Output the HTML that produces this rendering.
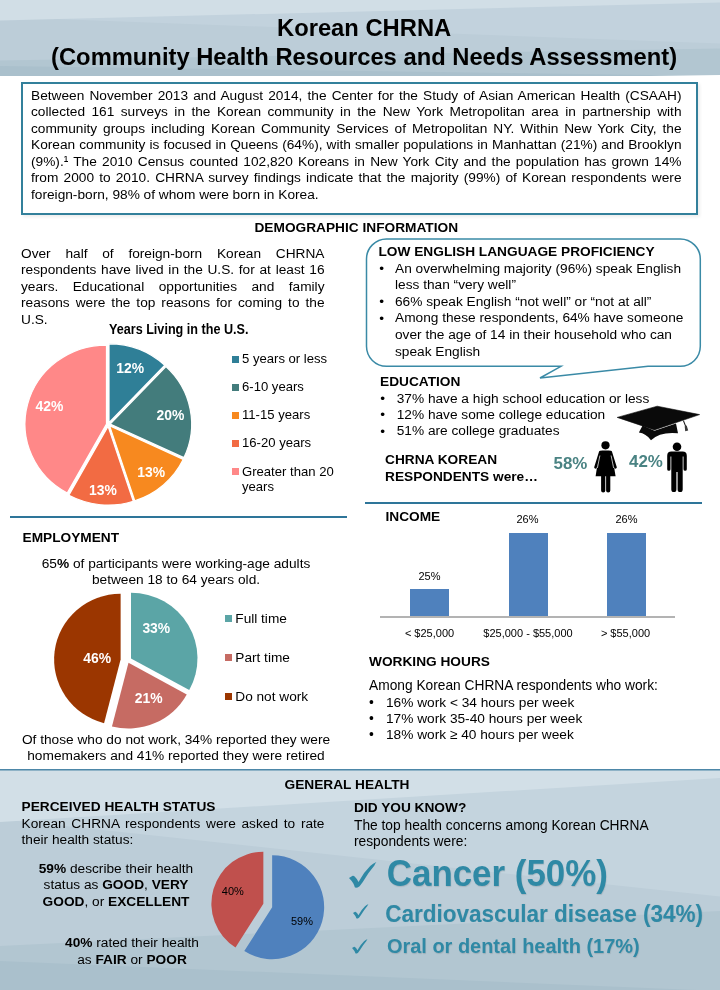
<!DOCTYPE html>
<html lang="en">
<head>
<meta charset="utf-8">
<title>Korean CHRNA</title>
<style>
html,body{margin:0;padding:0;}
body{width:720px;height:990px;position:relative;overflow:hidden;background:#fff;font-family:"Liberation Sans",Arial,sans-serif;color:#000;}
.abs{position:absolute;}
.t{position:absolute;font-size:13.7px;line-height:16.5px;white-space:nowrap;}
.b{font-weight:bold;}
.j{text-align:justify;text-align-last:justify;}
.c{text-align:center;}
.cal{font-size:11px;line-height:13px;position:absolute;white-space:nowrap;text-align:center;}
.lg{position:absolute;width:7px;height:7px;}
.wl{position:absolute;color:#fff;font-weight:bold;font-size:13.9px;line-height:16px;white-space:nowrap;width:40px;text-align:center;}
.bu{position:relative;top:0.3px;}
svg{position:absolute;overflow:visible;}
</style>
</head>
<body>

<!-- HEADER BACKGROUND -->
<svg style="left:0;top:0" width="720" height="75" viewBox="0 0 720 75">
  <defs>
    <linearGradient id="hg" x1="0" y1="0" x2="0" y2="1"><stop offset="0" stop-color="#c0d0db"/><stop offset="1" stop-color="#bbccd7"/></linearGradient>
    <linearGradient id="hd" x1="0" y1="0" x2="0" y2="1"><stop offset="0" stop-color="#b4c8d3"/><stop offset="1" stop-color="#a9c0cc"/></linearGradient>
  </defs>
  <rect width="720" height="75" fill="#c2d2dd"/>
  <polygon points="0,17 720,43.5 720,75 0,75" fill="#bccdd8"/>
  <polygon points="0,0 720,0 720,2.5 0,20.5" fill="#d1dee6"/>
  <polygon points="0,60.5 720,48.5 720,75 0,75" fill="#b2c6d1"/>
  <polygon points="0,66 720,76 0,76" fill="#aac0cc"/>
</svg>
<div class="abs b c" style="left:4.1px;top:12.55px;width:720px;font-size:23.75px;line-height:29px;">Korean CHRNA<br>(Community Health Resources and Needs Assessment)</div>

<!-- INTRO BOX -->
<div class="abs" style="left:21px;top:81.7px;width:672.8px;height:129.3px;border:2px solid #33809b;background:#fff;box-shadow:2px 2px 3px rgba(0,0,0,.07);"></div>
<div class="t j" style="left:31px;top:87.8px;width:650.5px;">
Between November 2013 and August 2014, the Center for the Study of Asian American Health (CSAAH)<br>
collected 161 surveys in the Korean community in the New York Metropolitan area in partnership with<br>
community groups including Korean Community Services of Metropolitan NY. Within New York City, the<br>
Korean community is focused in Queens (64%), with smaller populations in Manhattan (21%) and Brooklyn<br>
(9%).¹ The 2010 Census counted 102,820 Koreans in New York City and the population has grown 14%<br>
from 2000 to 2010. CHRNA survey findings indicate that the majority (99%) of Korean respondents were
</div>
<div class="t" style="left:31px;top:186.8px;">foreign-born, 98% of whom were born in Korea.</div>

<!-- DEMOGRAPHIC -->
<div class="t b c" style="left:0;top:220px;width:712.5px;">DEMOGRAPHIC INFORMATION</div>

<div class="t j" style="left:21px;top:245.7px;width:303.5px;line-height:16.6px;">
Over half of foreign-born Korean CHRNA<br>
respondents have lived in the U.S. for at least 16<br>
years. Educational opportunities and family<br>
reasons were the top reasons for coming to the
</div>
<div class="t" style="left:21px;top:312.1px;">U.S.</div>

<div class="t b" style="left:109px;top:321.9px;font-size:12.62px;transform-origin:0 12.62px;transform:scaleY(1.09);">Years Living in the U.S.</div>

<!-- PIE 1 -->
<svg style="left:0;top:330px" width="360" height="190" viewBox="0 330 360 190">
  <g transform="translate(108.3,424.4) scale(1.0334,1)" stroke="#fff" stroke-width="1.2" stroke-linejoin="miter">
    <path transform="translate(0.66,-1.67)" d="M0,0 L0.00,-78.90 A78.9,78.9 0 0 1 54.01,-57.52 Z" fill="#2f7f97"/>
    <path transform="translate(1.77,-0.34)" d="M0,0 L54.01,-57.52 A78.9,78.9 0 0 1 71.39,33.59 Z" fill="#437c7c"/>
    <path transform="translate(1.19,1.35)" d="M0,0 L71.39,33.59 A78.9,78.9 0 0 1 24.38,75.04 Z" fill="#f7891f"/>
    <path transform="translate(-0.17,1.79)" d="M0,0 L24.38,75.04 A78.9,78.9 0 0 1 -38.01,69.14 Z" fill="#f26b43"/>
    <path transform="translate(-1.74,-0.45)" d="M0,0 L-38.01,69.14 A78.9,78.9 0 0 1 -0.00,-78.90 Z" fill="#ff8888"/>
  </g>
</svg>
<div class="wl" style="left:110.2px;top:359.7px;">12%</div>
<div class="wl" style="left:150.4px;top:406.8px;">20%</div>
<div class="wl" style="left:131.2px;top:464.2px;">13%</div>
<div class="wl" style="left:82.9px;top:482.2px;">13%</div>
<div class="wl" style="left:29.5px;top:398.0px;">42%</div>

<div class="lg" style="left:232.3px;top:356px;background:#2f7f97"></div>
<div class="t" style="left:242px;top:351.3px;font-size:13.1px;">5 years or less</div>
<div class="lg" style="left:232.3px;top:384px;background:#437c7c"></div>
<div class="t" style="left:242px;top:379.3px;font-size:13.1px;">6-10 years</div>
<div class="lg" style="left:232.3px;top:412px;background:#f7891f"></div>
<div class="t" style="left:242px;top:407.3px;font-size:13.1px;">11-15 years</div>
<div class="lg" style="left:232.3px;top:440px;background:#f26b43"></div>
<div class="t" style="left:242px;top:435.3px;font-size:13.1px;">16-20 years</div>
<div class="lg" style="left:232.3px;top:468px;background:#ff8888"></div>
<div class="t" style="left:242px;top:463.6px;font-size:13.1px;line-height:15.2px;">Greater than 20<br>years</div>

<!-- SPEECH BUBBLE -->
<svg style="left:0;top:0" width="720" height="990" viewBox="0 0 720 990">
  <path d="M386.5,239 H680.3 A20,20 0 0 1 700.3,259 V346.3 A20,20 0 0 1 680.3,366.3 H648 L540,378 L561,366.3 H386.5 A20,20 0 0 1 366.5,346.3 V259 A20,20 0 0 1 386.5,239 Z" fill="#fff" stroke="#3a8aa6" stroke-width="1.5"/>
</svg>
<div class="t b" style="left:378.5px;top:244px;">LOW ENGLISH LANGUAGE PROFICIENCY</div>
<div class="t" style="left:379.3px;top:260.8px;line-height:16.55px;"><span class="bu">•</span><br><br><span class="bu">•</span><br><span class="bu">•</span></div>
<div class="t" style="left:395px;top:260.8px;line-height:16.55px;">An overwhelming majority (96%) speak English<br>less than “very well”<br>66% speak English “not well” or “not at all”<br>Among these respondents, 64% have someone<br>over the age of 14 in their household who can<br>speak English</div>

<!-- EDUCATION -->
<div class="t b" style="left:380px;top:373.5px;">EDUCATION</div>
<div class="t" style="left:380.3px;top:390.5px;line-height:16.4px;"><span class="bu">•</span><br><span class="bu">•</span><br><span class="bu">•</span></div>
<div class="t" style="left:396.7px;top:390.5px;line-height:16.4px;">37% have a high school education or less<br>12% have some college education<br>51% are college graduates</div>

<div class="t b" style="left:385px;top:451px;line-height:17px;">CHRNA KOREAN<br>RESPONDENTS were…</div>
<div class="t b" style="left:553.5px;top:453.5px;font-size:16.9px;line-height:20px;color:#4a8383;">58%</div>
<div class="t b" style="left:629px;top:452px;font-size:16.9px;line-height:20px;color:#4a8383;">42%</div>

<!-- ICONS -->
<svg style="left:0;top:0" width="720" height="990" viewBox="0 0 720 990">
  <!-- graduation cap -->
  <path d="M642.6,425.5 L638.9,432.6 Q646,433.5 651,440.3 Q660,431.5 678,433.3 L676,423.5 L654.5,430.8 Z" fill="#0a0a0a"/>
  <path d="M617.2,417.4 L657.2,406.2 L699.6,414.6 L654.4,429.9 Z" fill="#0a0a0a" stroke="#0a0a0a" stroke-width="0.6" stroke-linejoin="round"/>
  <path d="M683.4,420.6 L685.7,426.4" stroke="#1a1a1a" stroke-width="1.1" fill="none"/>
  <path d="M684.7,426.2 L686.7,425.6 L688.2,430.5 L685.2,431.2 Z" fill="#3a3a3a"/>
  <!-- woman -->
  <circle cx="605.5" cy="445.3" r="4.1" fill="#000"/>
  <path d="M601.8,450.6 H609.2 Q611,450.6 611.6,452.4 L615.6,476.3 H595.6 L599.4,452.4 Q600,450.6 601.8,450.6 Z" fill="#000"/>
  <path d="M600.3,452 L595.5,467.3 M610.7,452 L615.5,467.3" stroke="#000" stroke-width="2.6" stroke-linecap="round" fill="none"/>
  <path d="M599.9,455.5 L597.4,468 M611.1,455.5 L613.6,468" stroke="#fff" stroke-width="0.7" fill="none"/>
  <path d="M603.2,476 V490.4 M608.2,476 V490.4" stroke="#000" stroke-width="4.2" stroke-linecap="round" fill="none"/>
  <!-- man -->
  <circle cx="677" cy="446.7" r="4.3" fill="#000"/>
  <path d="M671.4,451.6 H682.6 Q686.8,451.6 686.8,455.8 V469.2 A1.65,1.65 0 0 1 683.5,469.2 V456.5 H682.7 V489.4 A2.5,2.5 0 0 1 677.6,489.4 V472 H676.4 V489.4 A2.5,2.5 0 0 1 671.3,489.4 V456.5 H670.5 V469.2 A1.65,1.65 0 0 1 667.2,469.2 V455.8 Q667.2,451.6 671.4,451.6 Z" fill="#000"/>
</svg>

<!-- DIVIDER LINES -->
<div class="abs" style="left:365px;top:502px;width:337px;height:2px;background:#2e7599;"></div>
<div class="abs" style="left:10px;top:516px;width:337px;height:2px;background:#2e7599;"></div>

<!-- INCOME -->
<div class="t b" style="left:385.5px;top:508.6px;">INCOME</div>
<div class="abs" style="left:410px;top:588.5px;width:39px;height:28px;background:#4f81bd;"></div>
<div class="abs" style="left:508.5px;top:532.5px;width:39px;height:84px;background:#4f81bd;"></div>
<div class="abs" style="left:607px;top:532.5px;width:39px;height:84px;background:#4f81bd;"></div>
<div class="abs" style="left:380px;top:616px;width:295px;height:1.5px;background:#b3b3b3;"></div>
<div class="cal" style="left:400px;width:59px;top:570px;">25%</div>
<div class="cal" style="left:498px;width:59px;top:513px;">26%</div>
<div class="cal" style="left:597px;width:59px;top:513px;">26%</div>
<div class="cal" style="left:390px;width:79px;top:627px;">&lt; $25,000</div>
<div class="cal" style="left:468px;width:120px;top:627px;">$25,000 - $55,000</div>
<div class="cal" style="left:586px;width:79px;top:627px;">&gt; $55,000</div>

<!-- WORKING HOURS -->
<div class="t b" style="left:369px;top:654px;">WORKING HOURS</div>
<div class="t" style="left:369px;top:678.3px;line-height:16.3px;font-size:13.75px;">Among Korean CHRNA respondents who work:<br><span class="bu">•</span><br><span class="bu">•</span><br><span class="bu">•</span></div>
<div class="t" style="left:386px;top:694.6px;line-height:16.3px;">16% work &lt; 34 hours per week<br>17% work 35-40 hours per week<br>18% work ≥ 40 hours per week</div>

<!-- EMPLOYMENT -->
<div class="t b" style="left:22.5px;top:530px;">EMPLOYMENT</div>
<div class="t c" style="left:0;top:555.5px;width:352px;line-height:16.2px;">65<b>%</b> of participants were working-age adults<br>between 18 to 64 years old.</div>

<svg style="left:0;top:585px" width="360" height="150" viewBox="0 585 360 150">
  <g transform="translate(126.2,660.5) scale(1.012,1)">
    <path transform="translate(4.74,-2.1)" d="M0,0 L0,-65.7 A65.7,65.7 0 0 1 57.57,31.65 Z" fill="#5ba5a6"/>
    <path transform="translate(2.27,2.3)" d="M0,0 L57.57,31.65 A65.7,65.7 0 0 1 -16.34,63.64 Z" fill="#c66b63"/>
    <path transform="translate(-5.53,-1)" d="M0,0 L-16.34,63.64 A65.7,65.7 0 0 1 0,-65.7 Z" fill="#9b3600"/>
  </g>
</svg>
<div class="wl" style="left:136.3px;top:620.0px;">33%</div>
<div class="wl" style="left:128.6px;top:690.0px;">21%</div>
<div class="wl" style="left:77.1px;top:650.0px;">46%</div>

<div class="lg" style="left:225px;top:615px;background:#5ba5a6"></div>
<div class="t" style="left:235.3px;top:610.5px;font-size:13.65px;">Full time</div>
<div class="lg" style="left:225px;top:654px;background:#c66b63"></div>
<div class="t" style="left:235.3px;top:649.5px;font-size:13.65px;">Part time</div>
<div class="lg" style="left:225px;top:693px;background:#9b3600"></div>
<div class="t" style="left:235.3px;top:688.5px;font-size:13.65px;">Do not work</div>

<div class="t c" style="left:0;top:732px;width:352px;line-height:16px;">Of those who do not work, 34% reported they were<br>homemakers and 41% reported they were retired</div>

<!-- FOOTER BACKGROUND -->
<svg style="left:0;top:769px" width="720" height="221" viewBox="0 769 720 221">
  <defs>
    <linearGradient id="fd" x1="0" y1="0" x2="0" y2="1"><stop offset="0" stop-color="#b3c7d2"/><stop offset="1" stop-color="#aac0cc"/></linearGradient>
  </defs>
  <rect x="0" y="769" width="720" height="221" fill="#c4d4de"/>
  <polygon points="0,819 720,896.5 720,990 0,990" fill="#bccdd8"/>
  <polygon points="0,769 720,769 720,778 0,822" fill="#d2dfe7"/>
  <polygon points="0,946 720,911 720,990 0,990" fill="#b2c6d1"/>
  <polygon points="0,961 720,991 0,991" fill="#aac0cc"/>
  <rect x="0" y="769" width="720" height="1.5" fill="#4d87a8"/>
</svg>

<div class="t b c" style="left:0;top:777px;width:694px;">GENERAL HEALTH</div>
<div class="t b" style="left:21.5px;top:798.5px;">PERCEIVED HEALTH STATUS</div>
<div class="t j" style="left:21.5px;top:815.5px;width:303px;">Korean CHRNA respondents were asked to rate</div>
<div class="t" style="left:21.5px;top:832px;">their health status:</div>

<div class="t c" style="left:16px;top:860.9px;width:200px;line-height:16.6px;"><b>59%</b> describe their health<br>status as <b>GOOD</b>, <b>VERY</b><br><b>GOOD</b>, or <b>EXCELLENT</b></div>
<div class="t c" style="left:32px;top:935.3px;width:200px;line-height:16.8px;"><b>40%</b> rated their health<br>as <b>FAIR</b> or <b>POOR</b></div>

<svg style="left:200px;top:845px" width="140" height="125" viewBox="200 845 140 125">
  <g transform="translate(267.75,905)">
    <path transform="translate(4.4,2.2)" d="M0,0 L0,-52 A52,52 0 1 1 -27.86,43.9 Z" fill="#4f81bd"/>
    <path transform="translate(-4.4,-1.3)" d="M0,0 L-27.86,43.9 A52,52 0 0 1 0,-52 Z" fill="#c0504d"/>
  </g>
</svg>
<div class="cal" style="left:212.8px;width:40px;top:885px;">40%</div>
<div class="cal" style="left:282px;width:40px;top:915px;">59%</div>

<div class="t b" style="left:354px;top:800px;">DID YOU KNOW?</div>
<div class="t" style="left:354px;top:817.5px;line-height:16.5px;font-size:13.77px;">The top health concerns among Korean CHRNA<br>respondents were:</div>

<div class="t b" style="left:386.8px;top:854.2px;font-size:34.9px;line-height:40px;color:#2f89a5;transform-origin:0 32.1px;transform:scaleY(1.035);text-shadow:0.5px 0.5px 1px rgba(0,0,0,.12);">Cancer (50%)</div>
<div class="t b" style="left:385.3px;top:901.9px;font-size:22.5px;line-height:26px;color:#2f89a5;transform-origin:0 20.8px;transform:scaleY(1.04);text-shadow:0.5px 0.5px 1px rgba(0,0,0,.12);">Cardiovascular disease (34%)</div>
<div class="t b" style="left:387px;top:934.2px;font-size:19.95px;line-height:24px;color:#2f89a5;transform-origin:0 18.9px;transform:scaleY(1.045);text-shadow:0.5px 0.5px 1px rgba(0,0,0,.12);">Oral or dental health (17%)</div>

<svg style="left:349.4px;top:861.6px" width="27.4" height="25.8" viewBox="0 0 27.4 25.8"><path d="M0,15.9 L3.7,13.8 Q5,13.7 5.6,14.4 Q8,16.5 9.5,19.9 Q14,11 21.2,4 Q24,1.5 27.4,0 Q26,1.8 25.4,3.5 Q19,11 13.8,19.9 L10.6,24.2 Q8.5,25.8 6.9,25.8 L5.8,25.2 Q5.5,23.5 4.2,21.2 Q3,19 0,15.9 Z" fill="#2f89a5"/></svg>
<svg style="left:353.3px;top:904.1px" width="15.5" height="14.6" viewBox="0 0 27.4 25.8"><path d="M0,15.9 L3.7,13.8 Q5,13.7 5.6,14.4 Q8,16.5 9.5,19.9 Q14,11 21.2,4 Q24,1.5 27.4,0 Q26,1.8 25.4,3.5 Q19,11 13.8,19.9 L10.6,24.2 Q8.5,25.8 6.9,25.8 L5.8,25.2 Q5.5,23.5 4.2,21.2 Q3,19 0,15.9 Z" fill="#2f89a5"/></svg>
<svg style="left:352px;top:939.2px" width="15.6" height="14.6" viewBox="0 0 27.4 25.8"><path d="M0,15.9 L3.7,13.8 Q5,13.7 5.6,14.4 Q8,16.5 9.5,19.9 Q14,11 21.2,4 Q24,1.5 27.4,0 Q26,1.8 25.4,3.5 Q19,11 13.8,19.9 L10.6,24.2 Q8.5,25.8 6.9,25.8 L5.8,25.2 Q5.5,23.5 4.2,21.2 Q3,19 0,15.9 Z" fill="#2f89a5"/></svg>

</body>
</html>
